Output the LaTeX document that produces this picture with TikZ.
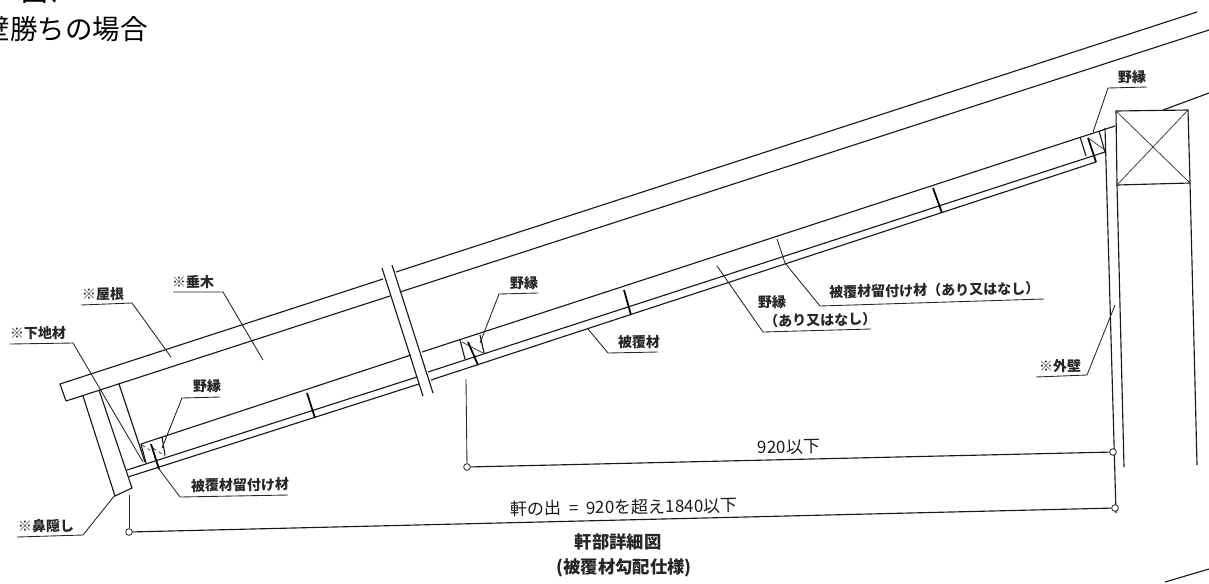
\documentclass[tikz,border=0pt]{standalone}
\usepackage{fontspec}
\setmainfont{Noto Sans CJK JP}
\tikzset{
  every picture/.style={x=0.75pt,y=-0.75pt},
  ln/.style={draw=black!90,line width=0.85pt},
  thin ln/.style={draw=black!75,line width=0.6pt},
  bold ln/.style={draw=black,line width=1.3pt},
  lead/.style={draw=black!85,line width=0.65pt},
  lab/.style={inner sep=0pt,font=\fontsize{10.5pt}{12pt}\selectfont\bfseries,rotate=1,text=black!85},
  dimt/.style={inner sep=0pt,font=\fontsize{12.75pt}{14pt}\selectfont,rotate=1,text=black!90},
  captxt/.style={inner sep=0pt,font=\fontsize{13pt}{15pt}\selectfont\bfseries,text=black!85},
  dot/.style={circle,draw=black!85,fill=white,line width=0.6pt,minimum size=5pt,inner sep=0pt},
}
\begin{document}
\begin{tikzpicture}
\useasboundingbox (0,0) rectangle (1209,583);
% head
\node[anchor=east,inner sep=0pt,font=\fontsize{20.6pt}{22pt}\selectfont] (head) at (148,29) {壁勝ちの場合};
\node[anchor=center,inner sep=0pt,font=\fontsize{20pt}{22pt}\selectfont] (headtop) at (48,-8) {図、};
% roof
\draw[ln] (66,401) -- (60,384) -- (383,279);
\draw[ln] (66,401) -- (390,296);
\draw[ln] (396,272) -- (1197,12);
\draw[ln] (400,292) -- (1209,30);
\draw[ln] (1163,110) -- (1209,93);
\draw[ln] (1165,582) -- (1209,569);
% break
\draw[ln] (382,268) -- (423,396);
\draw[ln] (392,265) -- (433,393);
% rafter lower and battens
\draw[ln] (141,444) -- (411,355);
\draw[ln] (422,352) -- (1115,126);
\draw[ln] (127,470) -- (417,377);
\draw[ln] (428,372) -- (1105,152);
\draw[ln] (128,477) -- (419,384);
\draw[ln] (431,380) -- (1096,162);
% fascia
\draw[ln] (83,396) -- (115,496) -- (132,488) -- (99,390);
\draw[ln] (119,384) -- (145,462);
% left purlin
\draw[ln] (141,444) -- (146,463);
\draw[ln] (162,437) -- (165,455);
\draw[thin ln,densely dashed] (153,448) -- (165,456);
\draw[thin ln,densely dashed] (142,445) -- (150,450);
\draw[bold ln] (151,444) -- (159,469);
% middle purlin
\draw[ln] (460,340) -- (465,359);
\draw[ln] (480,335) -- (484,353);
\draw[thin ln] (462,342) -- (483,353);
\draw[bold ln] (468,342) -- (478,365);
% right purlin
\draw[ln] (1080,137) -- (1086,156);
\draw[ln] (1099,131) -- (1105,152);
\draw[thin ln] (1088,138) -- (1105,150);
\draw[bold ln] (1088,138) -- (1096,162);
% ticks
\draw[bold ln] (307,393) -- (315,418);
\draw[bold ln] (624,290) -- (631,315);
\draw[bold ln] (933,188) -- (942,213);
% post
\draw[ln] (1116,111) -- (1188,110) -- (1190,183) -- (1117,185) -- cycle;
\draw[thin ln] (1116,111) -- (1190,183);
\draw[thin ln] (1188,110) -- (1117,185);
\draw[ln] (1117,185) -- (1124,467);
\draw[ln] (1190,183) -- (1197,465);
\draw[ln] (1105,128) -- (1116,513);
% dimension lines
\node[dot] (d1) at (129,532) {};
\node[dot] (d2) at (467,467) {};
\node[dot] (d3) at (1113,452) {};
\node[dot] (d4) at (1115,508) {};
\coordinate (e1) at (129,495);
\coordinate (e2) at (466,379);
\draw[lead] (d1) -- (e1);
\draw[lead] (d2) -- (e2);
\draw[ln] (d1) -- (d4);
\draw[ln] (d2) -- (d3);
% labels
\node[lab] (yane) at (103,294) {※屋根};
\node[lab] (taruki) at (193,282) {※垂木};
\node[lab] (shita) at (38,333) {※下地材};
\node[lab] (noe1) at (207,386) {野縁};
\node[lab] (tome1) at (240,485) {被覆材留付け材};
\node[lab] (hana) at (46,526) {※鼻隠し};
\node[lab] (noe2) at (524,283) {野縁};
\node[lab] (hifuku) at (639,342) {被覆材};
\node[lab] (noe3) at (772,302) {野縁};
\node[lab,anchor=west] (noe3b) at (764,321) {（あり又はなし）};
\node[lab,anchor=west] (tome2) at (829,292) {被覆材留付け材（あり又はなし）};
\node[lab] (noe4) at (1132,77) {野縁};
\node[lab] (gaiheki) at (1060,366) {※外壁};
\node[dimt] (d920) at (789,447) {920以下};
\node[dimt] (nokinode) at (624,507) {軒の出 ~=~ 920を超え1840以下};
\node[captxt] (cap1) at (618,542) {軒部詳細図};
\node[captxt] (cap2) at (624,568) {(被覆材勾配仕様)};
% leaders
\draw[lead] (81,305) -- (132,303) -- (171,357);
\draw[lead] (173,292) -- (223,292) -- (263,360);
\draw[lead] (10,344) -- (73,343) -- (143,462);
\draw[lead] (220,397) -- (182,398) -- (162,448);
\draw[lead] (159,469) -- (180,497) -- (288,495);
\draw[lead] (17,537) -- (83,535) -- (115,495);
\draw[lead] (538,293) -- (499,294) -- (480,343);
\draw[lead] (588,329) -- (608,353) -- (658,352);
\draw[lead] (717,266) -- (763,332) -- (871,329);
\draw[lead] (777,239) -- (785,263) -- (820,306) -- (1044,299);
\draw[lead] (1147,87) -- (1108,88) -- (1093,132);
\draw[lead] (1036,377) -- (1087,375) -- (1115,305);
\end{tikzpicture}
\end{document}
